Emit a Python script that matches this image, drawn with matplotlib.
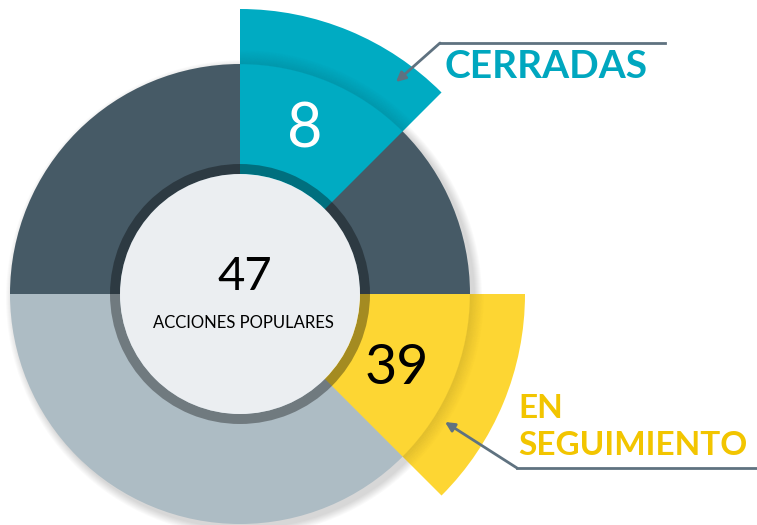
import numpy as np
import matplotlib.pyplot as plt
from matplotlib.patches import Wedge, Circle

# data
total = 47
total_label = 'ACCIONES POPULARES'
categories = ['CERRADAS', 'EN\nSEGUIMIENTO']
values = [8, 39]

# colours
c_top = '#465a66'
c_bottom = '#adbcc4'
c_center = '#ebeef1'
c_teal = '#00abc2'
c_yellow = '#fdd633'
c_line = '#5f7280'

W, H = 757, 525
fig = plt.figure(figsize=(W / 100, H / 100), dpi=100)
ax = fig.add_axes([0, 0, 1, 1])
ax.set_xlim(0, W)
ax.set_ylim(0, H)
ax.set_aspect('equal')
ax.axis('off')

cx, cy = 240, 231
r_out = 230
r_big = 285
r_ring = 130
r_in = 120

# soft shadow behind the main ring
for k in range(8):
    ax.add_patch(Circle((cx + 4, cy - 4), r_out + 8 - k, color='black',
                        alpha=0.02, lw=0))

# main ring halves
ax.add_patch(Wedge((cx, cy), r_out, 0, 180, color=c_top, lw=0))
ax.add_patch(Wedge((cx, cy), r_out, 180, 360, color=c_bottom, lw=0))

# highlighted wedges
wedges = [(45, 90, c_teal), (-45, 0, c_yellow)]
for a1, a2, col in wedges:
    ax.add_patch(Wedge((cx, cy), r_big, a1, a2, color=col, lw=0))
    # shadow cast by the main ring edge
    for k in range(14):
        ax.add_patch(Wedge((cx, cy), r_out + k + 1, a1, a2, width=1.2,
                           color='black', alpha=0.09 * (1 - k / 14), lw=0))

# dark translucent border round the centre
ax.add_patch(Wedge((cx, cy), r_ring, 0, 360, width=r_ring - r_in,
                   color='black', alpha=0.35, lw=0))
ax.add_patch(Circle((cx, cy), r_in, color=c_center, lw=0))

# centre text
ax.text(cx + 5, 525 - 277, str(total), ha='center', va='center',
        fontsize=34, family='Lato', color='black')
ax.text(cx + 3, 525 - 323, total_label, ha='center', va='center',
        fontsize=12, family='Lato', color='black')

# values on wedges
ax.text(305, 525 - 130, str(values[0]), ha='center', va='center',
        fontsize=44, family='Lato', color='white')
ax.text(397, 525 - 368, str(values[1]), ha='center', va='center',
        fontsize=40, family='Lato', color='black')

# callouts
ax.plot([665, 440], [525 - 43, 525 - 43], color=c_line, lw=2)
ax.annotate('', xy=(396, 525 - 82), xytext=(440, 525 - 43),
            arrowprops=dict(arrowstyle='-|>', color=c_line, lw=2,
                            mutation_scale=14, shrinkA=0, shrinkB=0))
ax.text(444, 525 - 67, categories[0], ha='left', va='center',
        fontsize=28, fontweight='bold', family='Lato', color='#00a7bf')

ax.plot([757, 517], [525 - 468, 525 - 468], color=c_line, lw=2)
ax.annotate('', xy=(445, 525 - 422), xytext=(517, 525 - 468),
            arrowprops=dict(arrowstyle='-|>', color=c_line, lw=2,
                            mutation_scale=14, shrinkA=0, shrinkB=0))
ax.text(518, 525 - 427, categories[1], ha='left', va='center',
        fontsize=24, fontweight='bold', family='Lato', color='#f2c500',
        linespacing=1.35)

fig.savefig('out.png', dpi=100)
